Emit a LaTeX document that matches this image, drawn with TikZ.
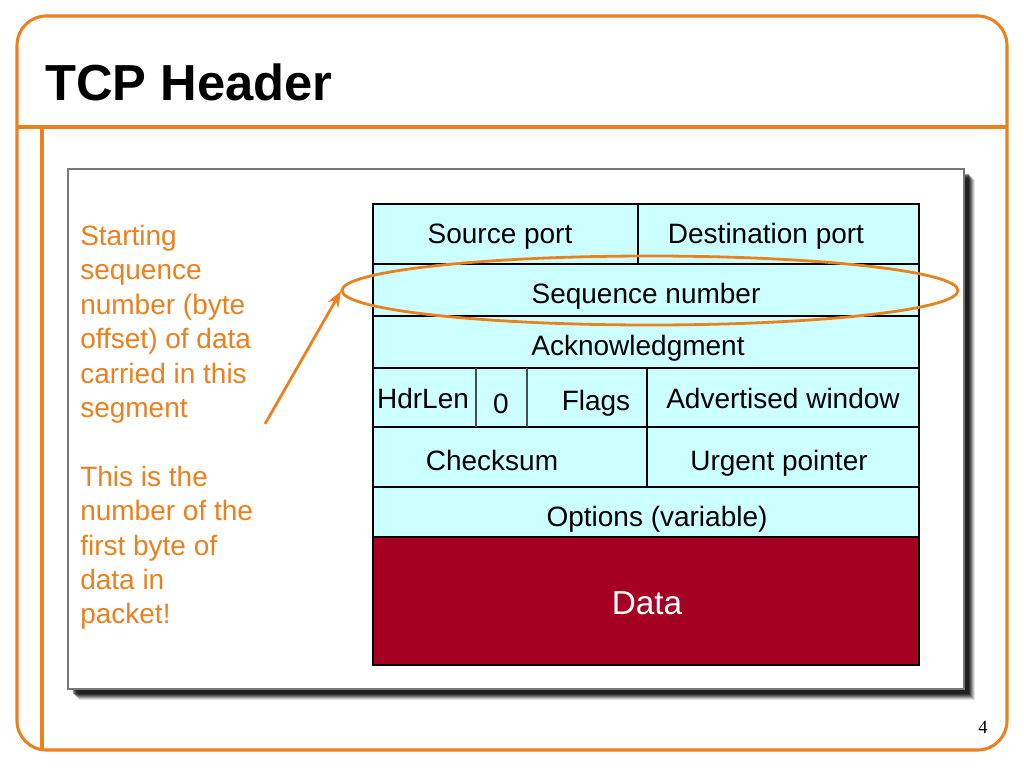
\documentclass[tikz,border=0pt]{standalone}
\usepackage{fontspec}
\setmainfont{Liberation Sans}
\newfontfamily\numfont{Liberation Serif}
\usetikzlibrary{arrows.meta}
\definecolor{framecol}{RGB}{234,128,30}
\definecolor{cellcol}{RGB}{204,255,255}
\definecolor{datacol}{RGB}{165,0,33}
\definecolor{boxgray}{RGB}{120,120,120}
\tikzset{
  frameline/.style={draw=framecol, line width=2.3pt},
  cell/.style={draw=black, line width=1.1pt, fill=cellcol},
  sep/.style={draw=black, line width=1.1pt},
  celltext/.style={anchor=base, inner sep=0pt, font=\fontsize{21}{25}\selectfont},
  notetext/.style={anchor=north west, inner sep=0pt, align=left, text=framecol,
    font=\fontsize{21}{25.8}\selectfont},
  pointer/.style={draw=framecol, line width=2.1pt, -{Stealth[length=12pt,width=9pt]}},
  callout/.style={draw=framecol, line width=2.1pt}
}
\begin{document}
\begin{tikzpicture}[x=0.75pt,y=-0.75pt]
\useasboundingbox (0,0) rectangle (1024,768);
% outer frame
\draw[frameline, rounded corners=22pt] (17,127) -- (17,16) -- (1007,16) -- (1007,750) -- (17,750) -- cycle;
\draw[frameline] (17,127) -- (1007,127);
\draw[frameline] (42,127) -- (42,750);
% title
\node[anchor=base west, inner sep=0pt, font=\fontsize{38}{44}\selectfont\bfseries] (title) at (45,100) {TCP Header};
% shadow of the grey box
\foreach \o/\a in {11/0.10,10/0.15,9/0.2,8/0.25,7/0.3,6/0.35,5/0.4} {
  \fill[black, opacity=\a] (68+\o,169+\o) rectangle (964+\o,689+\o);
}
\draw[draw=boxgray, line width=1.1pt, fill=white] (68,169) rectangle (964,689);
% table rows
\path[cell] (373,204) rectangle (919,264);
\path[cell] (373,264) rectangle (919,316);
\path[cell] (373,316) rectangle (919,368);
\path[cell] (373,368) rectangle (919,427);
\path[cell] (373,427) rectangle (919,487);
\path[cell] (373,487) rectangle (919,537);
\path[draw=black, line width=1.1pt, fill=datacol] (373,537) rectangle (919,665);
\draw[sep] (638,204) -- (638,264);
\draw[sep, draw=black!70] (476,368) -- (476,427);
\draw[sep, draw=black!70] (527,368) -- (527,427);
\draw[sep] (647,368) -- (647,487);
% texts
\node[celltext] (src) at (500,243) {Source port};
\node[celltext] (dst) at (766,243) {Destination port};
\node[celltext] (seq) at (646,303) {Sequence number};
\node[celltext] (ack) at (638,355) {Acknowledgment};
\node[celltext] (hdr) at (423,408) {HdrLen};
\node[celltext] (zero) at (501,413) {0};
\node[celltext] (flg) at (596,410) {Flags};
\node[celltext] (adv) at (783,408) {Advertised window};
\node[celltext] (chk) at (492,470) {Checksum};
\node[celltext] (urg) at (779,470) {Urgent pointer};
\node[celltext] (opt) at (657,526) {Options (variable)};
\node[celltext, text=white, font=\fontsize{25}{30}\selectfont] (data) at (647,614) {Data};
% callout ellipse
\draw[callout] (650,290.5) ellipse [x radius=308, y radius=34.5];
\coordinate (ellw) at (341,291);
\coordinate (tail) at (265,424);
\draw[pointer] (tail) -- (ellw);
% notes
\node[notetext] (note1) at (80,225) {Starting\\sequence\\number (byte\\offset) of data\\carried in this\\segment\\[25.8pt]This is the\\number of the\\first byte of\\data in\\packet!};
% page number
\node[anchor=base, inner sep=0pt, font=\numfont\fontsize{14}{16}\selectfont] (pg) at (983,733) {4};
\end{tikzpicture}
\end{document}
